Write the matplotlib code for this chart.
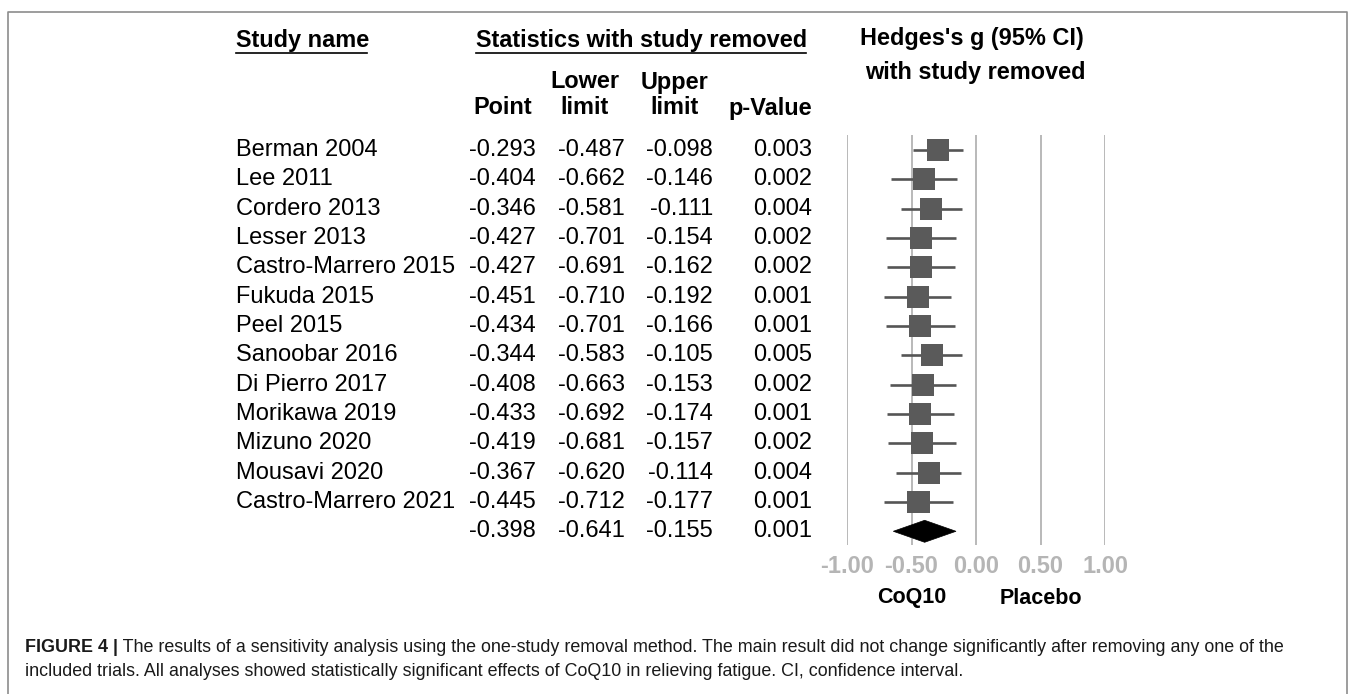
import matplotlib.pyplot as plt
import matplotlib.transforms as mtransforms
from matplotlib.patches import Polygon
from matplotlib.lines import Line2D

plt.rcParams['font.family'] = ['Liberation Sans', 'DejaVu Sans']

## Data
studies = ['Berman 2004', 'Lee 2011', 'Cordero 2013', 'Lesser 2013',
           'Castro-Marrero 2015', 'Fukuda 2015', 'Peel 2015', 'Sanoobar 2016',
           'Di Pierro 2017', 'Morikawa 2019', 'Mizuno 2020', 'Mousavi 2020',
           'Castro-Marrero 2021']
point = [-0.293, -0.404, -0.346, -0.427, -0.427, -0.451, -0.434, -0.344,
         -0.408, -0.433, -0.419, -0.367, -0.445]
lower = [-0.487, -0.662, -0.581, -0.701, -0.691, -0.710, -0.701, -0.583,
         -0.663, -0.692, -0.681, -0.620, -0.712]
upper = [-0.098, -0.146, -0.111, -0.154, -0.162, -0.192, -0.166, -0.105,
         -0.153, -0.174, -0.157, -0.114, -0.177]
pvals = [0.003, 0.002, 0.004, 0.002, 0.002, 0.001, 0.001, 0.005,
         0.002, 0.001, 0.002, 0.004, 0.001]
pooled_point, pooled_lower, pooled_upper, pooled_p = -0.398, -0.641, -0.155, 0.001
xticks = [-1.00, -0.50, 0.00, 0.50, 1.00]
side_labels = ['CoQ10', 'Placebo']
caption_bold = 'FIGURE 4 |'
caption_lines = [' The results of a sensitivity analysis using the one-study removal method. '
                 'The main result did not change significantly after removing any one of the',
                 'included trials. All analyses showed statistically significant effects of '
                 'CoQ10 in relieving fatigue. CI, confidence interval.']

W, H = 1355, 694
def fx(x):
    return x / W
def fy(y):
    return 1 - y / H

fig = plt.figure(figsize=(W / 100, H / 100), dpi=100)

## Forest axes (x -1..1 maps to 847..1105 px, rows every 29.33 px from 150)
row_h = 29.33
top_px, bot_px = 135, 545
ax = fig.add_axes([fx(847), fy(bot_px), fx(1105) - fx(847), (bot_px - top_px) / H])
ax.set_xlim(-1, 1)
ax.set_ylim((bot_px - 150) / row_h, (top_px - 150) / row_h)
for s in ax.spines.values():
    s.set_visible(False)
ax.set_yticks([])
ax.set_xticks(xticks)
ax.set_xticklabels(['%.2f' % t for t in xticks], fontsize=17, fontweight='bold', color='#b5b5b5')
ax.tick_params(axis='x', length=0, pad=7)
ax.grid(axis='x', color='#b3b3b3', lw=1.3)
ax.set_axisbelow(True)

rows = list(range(len(studies)))
ax.hlines(rows, lower, upper, color='#555555', lw=1.9, zorder=2)
ax.scatter(point, rows, marker='s', s=16 ** 2, color='#5a5a5a', edgecolors='none', zorder=3)

ps = len(studies)
dh = 0.375
diamond = Polygon([(pooled_lower, ps), (pooled_point, ps - dh), (pooled_upper, ps), (pooled_point, ps + dh)],
                  closed=True, facecolor='black', edgecolor='black', lw=0.5, zorder=3, clip_on=False)
ax.add_patch(diamond)

for lab, xv in zip(side_labels, [-0.5, 0.5]):
    ax.text(xv, fy(598), lab, transform=mtransforms.blended_transform_factory(ax.transData, fig.transFigure),
            ha='center', va='center', fontsize=15.5, fontweight='bold')

## Table text
tr = mtransforms.blended_transform_factory(fig.transFigure, ax.transData)
fs = 17
for i, name in enumerate(studies):
    fig.text(fx(236), i, name, transform=tr, ha='left', va='center', fontsize=fs)
col_right = [536, 625, 713, 812]
all_vals = [point + [pooled_point], lower + [pooled_lower], upper + [pooled_upper], pvals + [pooled_p]]
for xr, vals in zip(col_right, all_vals):
    for i, v in enumerate(vals):
        fig.text(fx(xr), i, '%.3f' % v, transform=tr, ha='right', va='center', fontsize=fs)

## Headers
hfs = 16.9
fig.text(fx(236), fy(40), 'Study name', ha='left', va='center', fontsize=hfs, fontweight='bold')
fig.text(fx(476), fy(40), 'Statistics with study removed', ha='left', va='center', fontsize=hfs, fontweight='bold')
fig.add_artist(Line2D([fx(236), fx(367)], [fy(53), fy(53)], color='black', lw=1.2))
fig.add_artist(Line2D([fx(476), fx(806)], [fy(53), fy(53)], color='black', lw=1.2))
fig.text(fx(503), fy(108), 'Point', ha='center', va='center', fontsize=hfs, fontweight='bold')
fig.text(fx(585), fy(82), 'Lower', ha='center', va='center', fontsize=hfs, fontweight='bold')
fig.text(fx(585), fy(108), 'limit', ha='center', va='center', fontsize=hfs, fontweight='bold')
fig.text(fx(675), fy(82), 'Upper', ha='center', va='center', fontsize=hfs, fontweight='bold')
fig.text(fx(675), fy(108), 'limit', ha='center', va='center', fontsize=hfs, fontweight='bold')
fig.text(fx(812), fy(108), 'p-Value', ha='right', va='center', fontsize=hfs, fontweight='bold')
fig.text(fx(972), fy(38), "Hedges's g (95% CI)", ha='center', va='center', fontsize=hfs, fontweight='bold')
fig.text(fx(975), fy(72), 'with study removed', ha='center', va='center', fontsize=hfs, fontweight='bold')

## Border (open at bottom)
fig.add_artist(Line2D([fx(8), fx(8), fx(1347), fx(1347)], [0, fy(12), fy(12), 0], color='#8c8c8c', lw=1.2))

## Caption
cfs = 12.85
t0 = fig.text(fx(25), fy(648), caption_bold, ha='left', va='center', fontsize=cfs, fontweight='bold', color='#1a1a1a')
fig.canvas.draw()
bb = t0.get_window_extent(renderer=fig.canvas.get_renderer())
fig.text(bb.x1 / W, fy(648), caption_lines[0], ha='left', va='center', fontsize=cfs, color='#1a1a1a')
fig.text(fx(25), fy(672), caption_lines[1], ha='left', va='center', fontsize=cfs, color='#1a1a1a')

fig.savefig('out.png', dpi=100)
